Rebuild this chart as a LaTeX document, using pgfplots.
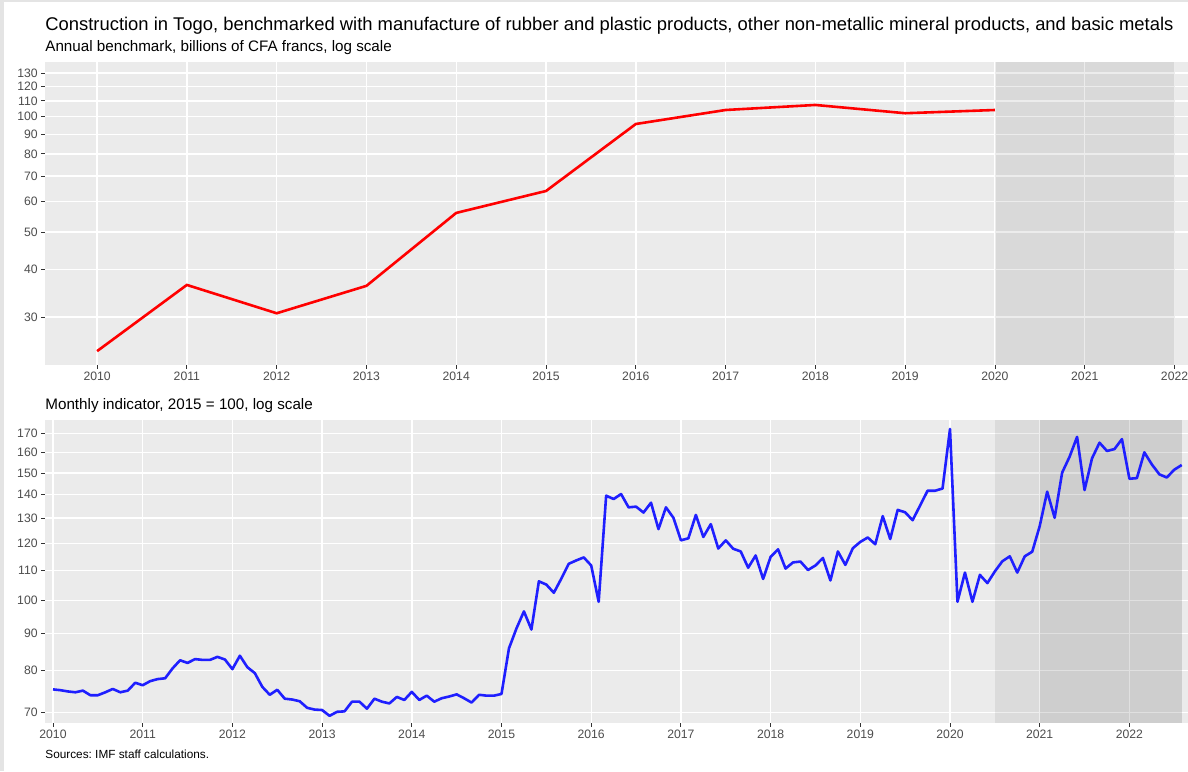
\documentclass[border=0pt]{standalone}
\usepackage{fontspec}
\setmainfont{Liberation Sans}
\usepackage{pgfplots}
\pgfplotsset{compat=1.18}
\frenchspacing

\definecolor{panelbg}{HTML}{EBEBEB}
\definecolor{labelgray}{HTML}{4D4D4D}
\definecolor{tickgray}{HTML}{333333}
\definecolor{framegray}{HTML}{E4E4E4}
\definecolor{lineblue}{rgb}{0.12,0.12,1}

% 1 px of the reference = 0.5pt
\pgfplotsset{
  gg/.style={
    scale only axis,
    width=571.5pt, height=151.5pt,
    anchor=south west,
    axis background/.style={fill=panelbg},
    axis line style={draw=none},
    grid=major,
    major grid style={white, line width=0.7pt},
    tick pos=left,
    tick align=outside,
    major tick length=2pt,
    tick style={color=tickgray, line width=0.45pt},
    tick label style={font=\fontsize{6.1}{7}\selectfont, text=labelgray},
    xticklabel style={inner sep=1.5pt},
    yticklabel style={inner sep=1.5pt},
  }
}

\pgfplotstableread{
m v
0 75.4
1 75.2
2 74.9
3 74.7
4 75.1
5 74.0
6 74.0
7 74.7
8 75.5
9 74.7
10 75.1
11 77.0
12 76.4
13 77.4
14 77.9
15 78.1
16 80.6
17 82.7
18 82.0
19 83.0
20 82.8
21 82.8
22 83.6
23 82.9
24 80.4
25 83.9
26 80.9
27 79.4
28 76.0
29 74.1
30 75.3
31 73.2
32 73.0
33 72.6
34 71.1
35 70.7
36 70.6
37 69.3
38 70.2
39 70.3
40 72.5
41 72.5
42 70.9
43 73.2
44 72.5
45 72.1
46 73.6
47 72.9
48 74.8
49 72.9
50 73.9
51 72.5
52 73.3
53 73.7
54 74.2
55 73.3
56 72.3
57 74.1
58 73.9
59 73.9
60 74.3
61 85.9
62 91.5
63 96.6
64 91.2
65 106.3
66 105.2
67 102.5
68 107.2
69 112.4
70 113.6
71 114.7
72 111.8
73 99.6
74 139.6
75 138.1
76 140.3
77 134.5
78 134.8
79 132.3
80 136.5
81 125.5
82 134.5
83 130.1
84 121.1
85 121.9
86 131.3
87 122.4
88 127.5
89 118.0
90 121.1
91 117.9
92 116.9
93 111.0
94 115.4
95 107.1
96 114.9
97 117.7
98 110.7
99 112.9
100 113.2
101 110.2
102 111.8
103 114.5
104 106.6
105 116.9
106 112.0
107 118.1
108 120.5
109 122.2
110 119.6
111 130.8
112 121.6
113 133.4
114 132.4
115 129.1
116 135.3
117 141.8
118 141.8
119 142.8
120 172.6
121 99.6
122 109.3
123 99.6
124 108.5
125 105.7
126 109.7
127 113.3
128 115.1
129 109.3
130 115.1
131 116.8
132 126.7
133 141.4
134 130.1
135 150.2
136 158.0
137 168.3
138 142.1
139 157.2
140 165.2
141 160.9
142 161.9
143 167.1
144 147.3
145 147.6
146 160.2
147 154.2
148 149.4
149 147.9
150 151.6
151 153.9
}\monthly

\begin{document}
\begin{tikzpicture}
\path[use as bounding box, fill=white] (0,0) rectangle (594pt,385.5pt);
\fill[framegray] (0,0) rectangle (2pt,385.5pt);
\fill[framegray] (0,384.5pt) rectangle (594pt,385.5pt);

\node[anchor=base west, inner sep=0pt, font=\fontsize{9.2}{11}\selectfont] at (22.5pt,370.2pt)
  {Construction in Togo, benchmarked with manufacture of rubber and plastic products, other non-metallic mineral products, and basic metals};
\node[anchor=base west, inner sep=0pt, font=\fontsize{7.6}{9}\selectfont] at (22.5pt,359.6pt)
  {Annual benchmark, billions of CFA francs, log scale};
\node[anchor=base west, inner sep=0pt, font=\fontsize{7.6}{9}\selectfont] at (22.5pt,180.5pt)
  {Monthly indicator, 2015 = 100, log scale};
\node[anchor=base west, inner sep=0pt, font=\fontsize{5.9}{7}\selectfont] at (22.5pt,6.2pt)
  {Sources: IMF staff calculations.};

% annual panel
\begin{axis}[gg,
  ymode=log,
  at={(22.5pt,203pt)},
  xmin=2009.42, xmax=2022.15,
  ymin=22.5, ymax=138.9,
  xtick={2010,2011,2012,2013,2014,2015,2016,2017,2018,2019,2020,2021,2022},
  xticklabels={2010,2011,2012,2013,2014,2015,2016,2017,2018,2019,2020,2021,2022},
  ytick={30,40,50,60,70,80,90,100,110,120,130},
  yticklabels={30,40,50,60,70,80,90,100,110,120,130},
]
\addplot[draw=none, fill=black, fill opacity=0.075]
  coordinates {(2020,22.5) (2022,22.5) (2022,138.9) (2020,138.9)} -- cycle;
\addplot[red, line width=1.3pt] coordinates {
  (2010,24.45) (2011,36.4) (2012,30.7) (2013,36.2) (2014,56.1) (2015,64.0)
  (2016,95.7) (2017,104.1) (2018,107.3) (2019,102.1) (2020,104.1)
};
\end{axis}

% monthly panel
\begin{axis}[gg,
  ymode=log,
  at={(22.5pt,24pt)},
  xmin=-1.07, xmax=151.84,
  ymin=67.75, ymax=177.6,
  xtick={0,12,24,36,48,60,72,84,96,108,120,132,144},
  xticklabels={2010,2011,2012,2013,2014,2015,2016,2017,2018,2019,2020,2021,2022},
  ytick={70,80,90,100,110,120,130,140,150,160,170},
  yticklabels={70,80,90,100,110,120,130,140,150,160,170},
]
\addplot[draw=none, fill=black, fill opacity=0.065]
  coordinates {(126,67.75) (151,67.75) (151,177.6) (126,177.6)} -- cycle;
\addplot[draw=none, fill=black, fill opacity=0.06]
  coordinates {(132,67.75) (151,67.75) (151,177.6) (132,177.6)} -- cycle;
\addplot[lineblue, line width=1.3pt, line join=round] table[x=m, y=v] {\monthly};
\end{axis}
\end{tikzpicture}
\end{document}
